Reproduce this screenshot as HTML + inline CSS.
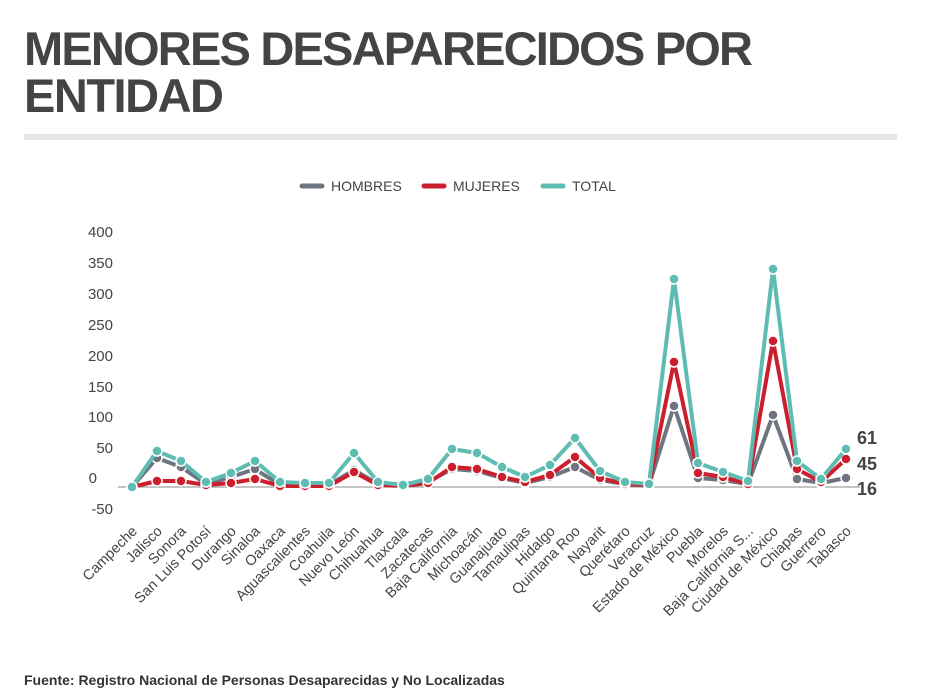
<!DOCTYPE html>
<html><head><meta charset="utf-8"><style>
body{margin:0;background:#fff;width:930px;height:697px;overflow:hidden}
svg{display:block;font-family:"Liberation Sans",sans-serif}
</style></head><body>
<svg width="930" height="697" viewBox="0 0 930 697">
<text x="24" y="65" font-size="47" font-weight="bold" fill="#444" textLength="729" lengthAdjust="spacing">MENORES DESAPARECIDOS POR</text>
<text x="24" y="112" font-size="47" font-weight="bold" fill="#444" textLength="200" lengthAdjust="spacing">ENTIDAD</text>
<rect x="24" y="134" width="873" height="6" fill="#e6e6e6"/>
<g font-size="14" fill="#444">
<line x1="302" y1="186" x2="322" y2="186" stroke="#6e7580" stroke-width="5" stroke-linecap="round"/><text x="331" y="191">HOMBRES</text>
<line x1="424" y1="186" x2="444" y2="186" stroke="#cc1f2e" stroke-width="5" stroke-linecap="round"/><text x="453" y="191">MUJERES</text>
<line x1="543" y1="186" x2="563" y2="186" stroke="#5fbcb3" stroke-width="5" stroke-linecap="round"/><text x="572" y="191">TOTAL</text>
</g>
<g font-size="15" fill="#444" text-anchor="end">
<text x="113" y="237">400</text><text x="113" y="268">350</text><text x="113" y="299">300</text><text x="113" y="330">250</text><text x="113" y="361">200</text><text x="113" y="392">150</text><text x="113" y="422">100</text><text x="113" y="453">50</text><text x="97" y="483">0</text><text x="113" y="514">-50</text>
</g>
<line x1="118" y1="487" x2="860" y2="487" stroke="#888" stroke-width="1"/>
<g id="chart"></g>
<g font-size="18" font-weight="bold" fill="#444">
<text x="857" y="444">61</text><text x="857" y="470">45</text><text x="857" y="495">16</text>
</g>
<text x="24" y="685" font-size="14" font-weight="bold" fill="#333">Fuente: Registro Nacional de Personas Desaparecidas y No Localizadas</text>
<g font-size="14.5" fill="#444" id="labels"></g>
</svg>
<script>
var xs=[132,157,181,206,231,255,280,305,329,354,378,403,428,452,477,502,525,550,575,600,625,649,674,698,723,748,773,797,821,846];
var names=["Campeche","Jalisco","Sonora","San Luis Potosí","Durango","Sinaloa","Oaxaca","Aguascalientes","Coahuila","Nuevo León","Chihuahua","Tlaxcala","Zacatecas","Baja California","Michoacán","Guanajuato","Tamaulipas","Hidalgo","Quintana Roo","Nayarit","Querétaro","Veracruz","Estado de México","Puebla","Morelos","Baja California S...","Ciudad de México","Chiapas","Guerrero","Tabasco"];
var T=[487,451,461,482,473,461,482,483,483,453,482,485,479,449,453,467,477,465,438,471,482,484,279,463,472,481,269,461,479,449];
var M=[487,481,481,485,483,479,486,486,486,472,485,486,483,467,469,477,482,475,457,478,484,485,362,473,477,484,341,469,482,459];
var H=[487,458,467,484,477,469,485,485,485,470,484,486,482,469,471,478,483,477,467,480,484,485,406,478,480,484,415,479,483,478];
var ns="http://www.w3.org/2000/svg",g=document.getElementById("chart");
function series(ys,c){var p=document.createElementNS(ns,"polyline");p.setAttribute("points",xs.map(function(x,i){return x+","+ys[i]}).join(" "));p.setAttribute("fill","none");p.setAttribute("stroke",c);p.setAttribute("stroke-width","4");p.setAttribute("stroke-linejoin","round");g.appendChild(p);
xs.forEach(function(x,i){var k=document.createElementNS(ns,"circle");k.setAttribute("cx",x);k.setAttribute("cy",ys[i]);k.setAttribute("r","5");k.setAttribute("fill",c);k.setAttribute("stroke","#fff");k.setAttribute("stroke-width","1.5");g.appendChild(k);});}
series(H,"#6e7580");series(M,"#cc1f2e");series(T,"#5fbcb3");
var L=document.getElementById("labels");
xs.forEach(function(x,i){var t=document.createElementNS(ns,"text");t.setAttribute("text-anchor","end");t.setAttribute("transform","translate("+(x+6)+",532) rotate(-45)");t.textContent=names[i];L.appendChild(t);});
</script>
</body></html>
